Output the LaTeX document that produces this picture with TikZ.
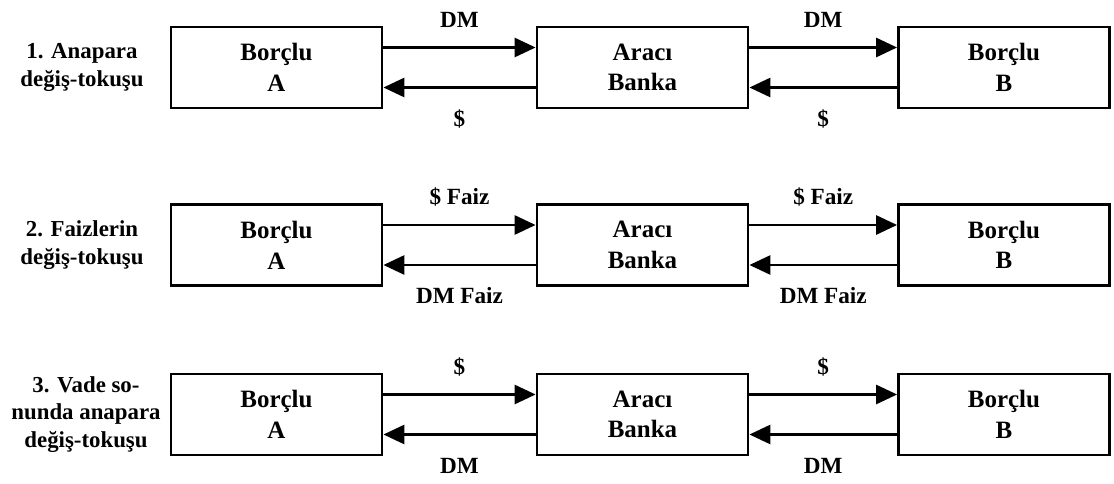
\documentclass[tikz,border=0pt]{standalone}
\usepackage{fontspec}
\setmainfont{Liberation Serif}
\usepackage{xcolor}
\usepackage{tikz}
\usetikzlibrary{arrows.meta}
\tikzset{
  party/.style={draw, line width=1.6pt, minimum width=4.22cm, minimum height=1.62cm,
    align=center, font=\fontsize{14.2}{17.5}\selectfont\bfseries},
  flow/.style={line width=1.6pt, -{Triangle[length=0.42cm,width=0.38cm]}},
  flowlabel/.style={anchor=base, font=\fontsize{13.2}{16}\selectfont\bfseries},
  rowlabel/.style={align=center, font=\fontsize{13}{15.5}\selectfont\bfseries}
}

\begin{document}
\begin{tikzpicture}
\useasboundingbox (0,0) rectangle (22.28,-9.68);
% Parties in each row
\foreach \r/\y in {1/-1.35,2/-4.9,3/-8.29} {
    \node[party] (A\r) at (5.53,\y) {Borçlu\\A};
    \node[party] (K\r) at (12.85,\y) {Aracı\\Banka};
    \node[party] (B\r) at (20.08,\y) {Borçlu\\B};
}

% Row titles
\node[rowlabel] (t1) at (1.64,-1.35) {1. Anapara\\değiş-tokuşu};
\node[rowlabel] (t2) at (1.64,-4.9) {2. Faizlerin\\değiş-tokuşu};
\node[rowlabel] (t3) at (1.72,-8.29) {3. Vade so-\\nunda anapara\\değiş-tokuşu};

% Flows between parties
\foreach \r/\up/\down in {1/DM/\$,2/{\$ Faiz}/{DM Faiz},3/\$/DM} {
    \draw[flow] ([yshift=0.4cm]A\r.east) -- node[flowlabel,yshift=0.4cm] {\up} ([yshift=0.4cm]K\r.west);
    \draw[flow] ([yshift=-0.4cm]K\r.west) -- node[flowlabel,yshift=-0.78cm] {\down} ([yshift=-0.4cm]A\r.east);
    \draw[flow] ([yshift=0.4cm]K\r.east) -- node[flowlabel,yshift=0.4cm] {\up} ([yshift=0.4cm]B\r.west);
    \draw[flow] ([yshift=-0.4cm]B\r.west) -- node[flowlabel,yshift=-0.78cm] {\down} ([yshift=-0.4cm]K\r.east);
}
\end{tikzpicture}
\end{document}
